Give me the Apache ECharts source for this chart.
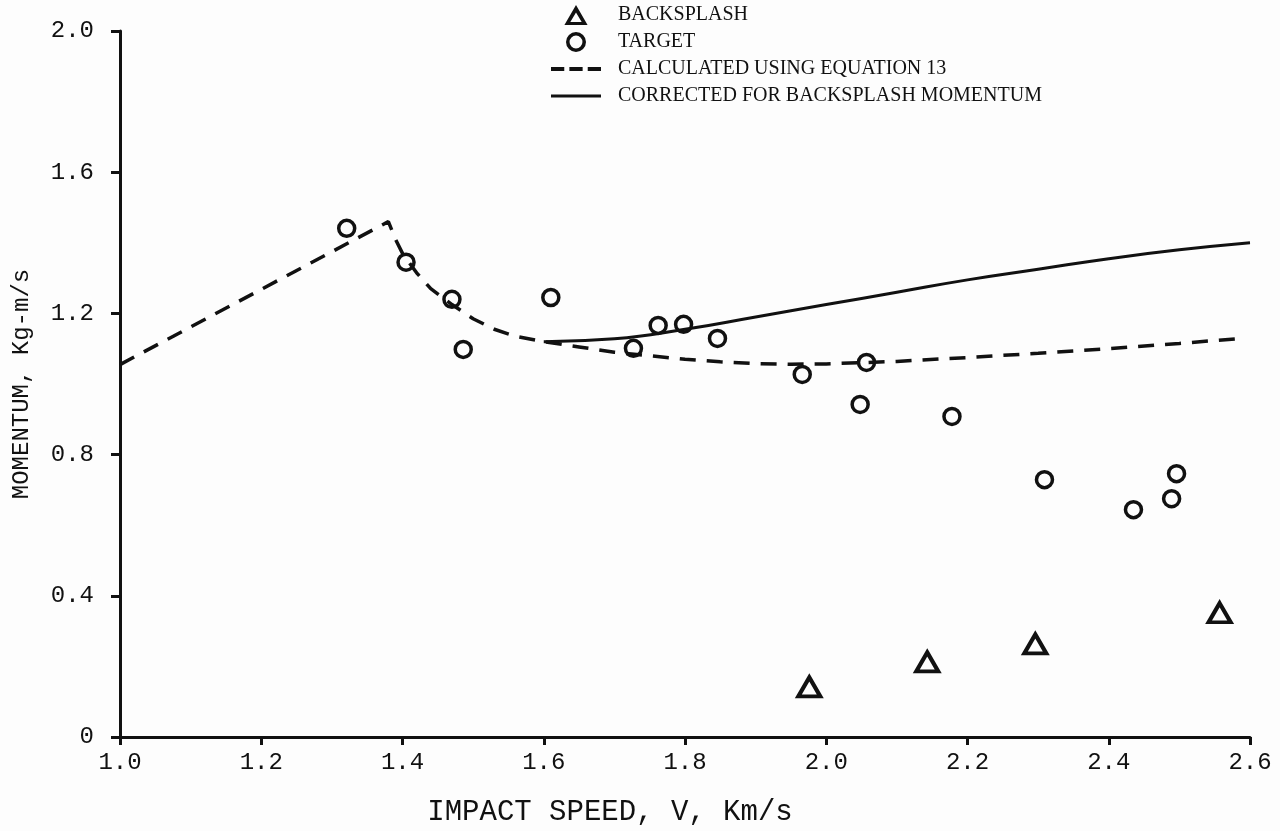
<!DOCTYPE html>
<html>
<head>
<meta charset="utf-8">
<script src="https://cdn.jsdelivr.net/npm/echarts@6/dist/echarts.min.js"></script>
<style>
html,body{margin:0;padding:0;background:#fdfdfd;}
#chart{width:1280px;height:831px;}
</style>
</head>
<body>
<div id="chart"></div>
<script>
// ---- data ----
var xTicks = [1.0, 1.2, 1.4, 1.6, 1.8, 2.0, 2.2, 2.4, 2.6];
var yTicks = [0, 0.4, 0.8, 1.2, 1.6, 2.0];

var backsplashX = [1.976, 2.143, 2.296, 2.557];
var backsplashY = [0.142, 0.213, 0.264, 0.352];

var targetX = [1.321, 1.405, 1.470, 1.486, 1.610, 1.727, 1.762, 1.798, 1.846, 1.966, 2.057, 2.048, 2.178, 2.309, 2.435, 2.489, 2.496];
var targetY = [1.441, 1.345, 1.240, 1.098, 1.245, 1.101, 1.166, 1.169, 1.129, 1.027, 1.061, 0.942, 0.908, 0.729, 0.644, 0.675, 0.746];

var calcX = [1.0, 1.38, 1.39, 1.40, 1.42, 1.44, 1.47, 1.50, 1.53, 1.56, 1.60, 1.65, 1.70, 1.75, 1.80, 1.85, 1.90, 1.95, 2.0, 2.1, 2.2, 2.3, 2.4, 2.5, 2.58];
var calcY = [1.055, 1.46, 1.41, 1.37, 1.315, 1.27, 1.225, 1.185, 1.155, 1.135, 1.12, 1.105, 1.09, 1.08, 1.07, 1.063, 1.058, 1.056, 1.057, 1.064, 1.075, 1.087, 1.10, 1.115, 1.128];

var corrX = [1.6, 1.7, 1.8, 1.9, 2.0, 2.1, 2.2, 2.3, 2.4, 2.5, 2.6];
var corrY = [1.12, 1.128, 1.155, 1.19, 1.225, 1.26, 1.295, 1.325, 1.355, 1.38, 1.40];

var seriesNames = ['BACKSPLASH', 'TARGET', 'CALCULATED USING EQUATION 13', 'CORRECTED FOR BACKSPLASH MOMENTUM'];
var xTitle = 'IMPACT SPEED, V, Km/s';
var yTitle = 'MOMENTUM, Kg-m/s';

function zip(xs, ys){ return xs.map(function(x,i){ return [x, ys[i]]; }); }

var FONT = 'Liberation Serif';
var TICKFONT = 'Liberation Mono';
var INK = '#111';

// legend icon shapes (hollow triangle, ring, dashes, bar)
var ICON_TRI = 'path://M0,19 L11,0 L22,19 Z M5.6,16.2 L16.4,16.2 L11,7.2 Z';
var ICON_RING = 'path://M9,0 A9,9 0 1 1 9,18 A9,9 0 1 1 9,0 Z M9,3.2 A5.8,5.8 0 1 0 9,14.8 A5.8,5.8 0 1 0 9,3.2 Z';
var ICON_DASH = 'path://M0,0 H13 V4 H0 Z M18,0 H31 V4 H18 Z M36,0 H49 V4 H36 Z';
var ICON_LINE = 'path://M0,0 H49 V3 H0 Z';

var chart = echarts.init(document.getElementById('chart'), null, {renderer:'canvas'});
chart.setOption({
  backgroundColor: '#fdfdfd',
  animation: false,
  grid: {left: 120, right: 30, top: 31, bottom: 94, containLabel: false, outerBoundsMode: 'none'},
  legend: {
    orient: 'vertical',
    left: 546,
    top: 0,
    itemWidth: 50,
    itemHeight: 20,
    itemGap: 7,
    symbolKeepAspect: true,
    textStyle: {fontFamily: FONT, fontSize: 20, color: INK, padding: [0,0,0,12]},
    data: [
      {name: seriesNames[0], icon: ICON_TRI, itemStyle: {color: INK, borderWidth: 0, opacity: 1}},
      {name: seriesNames[1], icon: ICON_RING, itemStyle: {color: INK, borderWidth: 0, opacity: 1}},
      {name: seriesNames[2], icon: ICON_DASH, itemStyle: {color: INK, borderWidth: 0, opacity: 1}},
      {name: seriesNames[3], icon: ICON_LINE, itemStyle: {color: INK, borderWidth: 0, opacity: 1}}
    ]
  },
  xAxis: {
    type: 'value',
    min: xTicks[0], max: xTicks[xTicks.length-1], interval: 0.2,
    name: xTitle, nameLocation: 'middle', nameGap: 61,
    nameTextStyle: {fontFamily: TICKFONT, fontSize: 29, color: INK, padding: [0, 150, 0, 0]},
    axisLine: {lineStyle: {color: INK, width: 3}},
    axisTick: {show: true, inside: false, length: 8, lineStyle: {color: INK, width: 3}},
    axisLabel: {fontFamily: TICKFONT, fontSize: 24, color: INK, margin: 14,
      formatter: function(v){ return v.toFixed(1); }},
    splitLine: {show: false}
  },
  yAxis: {
    type: 'value',
    min: yTicks[0], max: yTicks[yTicks.length-1], interval: 0.4,
    name: yTitle, nameLocation: 'middle', nameGap: 86, nameRotate: 90,
    nameTextStyle: {fontFamily: TICKFONT, fontSize: 24, color: INK},
    axisLine: {lineStyle: {color: INK, width: 3}},
    axisTick: {show: true, inside: false, length: 9, lineStyle: {color: INK, width: 3}},
    axisLabel: {fontFamily: TICKFONT, fontSize: 24, color: INK, margin: 26,
      formatter: function(v){ return v === 0 ? '0' : v.toFixed(1); }},
    splitLine: {show: false}
  },
  series: [
    {
      name: seriesNames[0], type: 'scatter', symbol: 'triangle', symbolSize: [22, 19],
      itemStyle: {color: '#fdfdfd', borderColor: INK, borderWidth: 4, opacity: 1},
      data: zip(backsplashX, backsplashY), z: 5
    },
    {
      name: seriesNames[1], type: 'scatter', symbol: 'circle', symbolSize: 16,
      itemStyle: {color: 'rgba(255,255,255,0)', borderColor: INK, borderWidth: 3.5, opacity: 1},
      data: zip(targetX, targetY), z: 5
    },
    {
      name: seriesNames[2], type: 'line', symbol: 'none', smooth: false,
      lineStyle: {color: INK, width: 3.5, type: [16, 11]},
      itemStyle: {color: INK},
      data: zip(calcX, calcY)
    },
    {
      name: seriesNames[3], type: 'line', symbol: 'none', smooth: true,
      lineStyle: {color: INK, width: 3, type: 'solid'},
      itemStyle: {color: INK},
      data: zip(corrX, corrY)
    }
  ]
});
</script>
</body>
</html>
